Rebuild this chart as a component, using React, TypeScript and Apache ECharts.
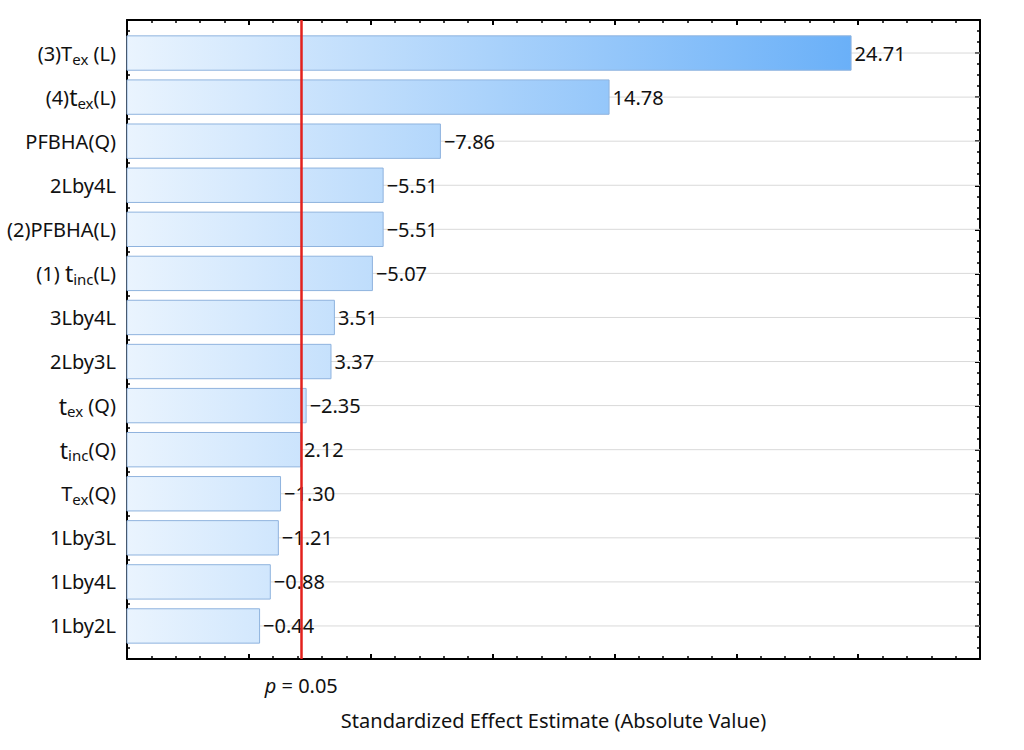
import React, { useEffect, useRef } from "react";
import * as echarts from "echarts";

// ---- data ----
const categoryLabels = [
  "(3)T{sub|ex} (L)",
  "(4){t|t}{sub|ex}(L)",
  "PFBHA(Q)",
  "2Lby4L",
  "(2)PFBHA(L)",
  "(1) {t|t}{sub|inc}(L)",
  "3Lby4L",
  "2Lby3L",
  "{t|t}{sub|ex} (Q)",
  "{t|t}{sub|inc}(Q)",
  "T{sub|ex}(Q)",
  "1Lby3L",
  "1Lby4L",
  "1Lby2L",
];
const effects = [24.71, 14.78, -7.86, -5.51, -5.51, -5.07, 3.51, 3.37, -2.35, 2.12, -1.3, -1.21, -0.88, -0.44];
const xMin = -5;
const xMax = 30;
const xStep = 5;
const pCritical = 2.145;
const pLabel = "{i|p} = 0.05";
const xTitle = "Standardized Effect Estimate (Absolute Value)";

const FONT = "Noto Sans";

function fmt(v: number): string {
  const s = Math.abs(v).toFixed(2);
  return v < 0 ? "\u2212" + s : s;
}

export default function App() {
  const ref = useRef<HTMLDivElement>(null);
  useEffect(() => {
    document.body.style.margin = "0";
    const chart = echarts.init(ref.current!, undefined, { renderer: "svg" });
    const maxAbs = Math.max(...effects.map((e) => Math.abs(e)));
    const data = effects.map((e, i) => [Math.abs(e), i, e]);

    const frameX = (pos: "top" | "bottom", extra: any = {}) => ({
      gridIndex: 1,
      type: "value",
      position: pos,
      min: xMin,
      max: xMax,
      interval: xStep,
      axisLine: { show: true, onZero: false, lineStyle: { color: "#000", width: 2 } },
      axisTick: { show: true, inside: true, length: 5, lineStyle: { color: "#000", width: 2 } },
      minorTick: { show: true, splitNumber: 5, length: 3, lineStyle: { color: "#000", width: 1.5 } },
      axisLabel: { show: false },
      splitLine: { show: false },
      minorSplitLine: { show: false },
      ...extra,
    });
    const frameY = (pos: "left" | "right") => ({
      gridIndex: 1,
      type: "value",
      position: pos,
      min: 0,
      max: 58,
      interval: 1,
      axisLine: { show: true, onZero: false, lineStyle: { color: "#000", width: 2 } },
      axisTick: { show: true, inside: true, length: 3, lineStyle: { color: "#000", width: 1.5 } },
      axisLabel: { show: false },
      splitLine: { show: false },
    });
    const catY = (pos: "left" | "right", labels: boolean) => ({
      gridIndex: 0,
      type: "category",
      position: pos,
      data: categoryLabels,
      inverse: true,
      axisLine: { show: false, onZero: false },
      axisTick: { show: true, inside: true, alignWithLabel: true, length: 5, lineStyle: { color: "#000", width: 2 } },
      splitLine: { show: false },
      axisLabel: labels
        ? {
            show: true,
            margin: 11,
            color: "#111",
            fontFamily: FONT,
            fontSize: 20,
            lineHeight: 26,
            formatter: (v: string) => v,
            rich: {
              t: { fontSize: 23, fontFamily: FONT, color: "#111", lineHeight: 26 },
              sub: { fontSize: 15, fontFamily: FONT, color: "#111", lineHeight: 17, verticalAlign: "bottom" },
            },
          }
        : { show: false },
    });

    const option: any = {
      animation: false,
      backgroundColor: "#fff",
      grid: [
        { left: 127, right: 44, top: 31, bottom: 102 },
        { left: 127, right: 44, top: 20, bottom: 91 },
      ],
      xAxis: [
        { gridIndex: 0, type: "value", min: xMin, max: xMax, interval: xStep, show: false },
        frameX("bottom", {
          name: xTitle,
          nameLocation: "middle",
          nameGap: 51,
          nameTextStyle: { fontFamily: FONT, fontSize: 20, color: "#111" },
        }),
        frameX("top"),
      ],
      yAxis: [catY("left", true), catY("right", false), frameY("left"), frameY("right")],
      series: [
        {
          type: "custom",
          xAxisIndex: 0,
          yAxisIndex: 0,
          z: 2,
          data,
          encode: { x: 0, y: 1 },
          renderItem: (params: any, api: any) => {
            const v = api.value(0);
            const idx = api.value(1);
            const signed = api.value(2);
            const start = api.coord([xMin, idx]);
            const end = api.coord([v, idx]);
            const rightEdge = api.coord([xMax, idx]);
            const gradEnd = api.coord([maxAbs, idx]);
            const band = api.size([0, 1])[1];
            const h = band * 0.78;
            return {
              type: "group",
              children: [
                {
                  type: "line",
                  shape: { x1: start[0], y1: start[1], x2: rightEdge[0], y2: start[1] },
                  style: { stroke: "#d9d9d9", lineWidth: 1 },
                  z2: 0,
                },
                {
                  type: "rect",
                  shape: { x: start[0], y: start[1] - h / 2, width: end[0] - start[0], height: h },
                  style: {
                    fill: new echarts.graphic.LinearGradient(
                      start[0], 0, gradEnd[0], 0,
                      [
                        { offset: 0, color: "#eaf4fe" },
                        { offset: 1, color: "#6ab0f8" },
                      ],
                      true
                    ),
                    stroke: "#8fb3de",
                    lineWidth: 1,
                  },
                  z2: 1,
                  textContent: {
                    type: "text",
                    style: {
                      text: fmt(signed),
                      fill: "#111",
                      fontFamily: FONT,
                      fontSize: 20,
                    },
                  },
                  textConfig: { position: "right", distance: 3 },
                },
              ],
            };
          },
        },
        {
          type: "line",
          xAxisIndex: 1,
          yAxisIndex: 2,
          data: [],
          z: 10,
          markLine: {
            silent: true,
            z: 10,
            symbol: "none",
            lineStyle: { color: "#e3211c", width: 2.5, type: "solid" },
            label: {
              show: true,
              position: "start",
              distance: 16,
              formatter: pLabel,
              color: "#111",
              fontFamily: FONT,
              fontSize: 20,
              rich: { i: { fontStyle: "italic", fontFamily: FONT, fontSize: 20, color: "#111" } },
            },
            data: [{ xAxis: pCritical }],
          },
        },
      ],
    };
    chart.setOption(option);
    return () => chart.dispose();
  }, []);
  return <div ref={ref} style={{ width: 1024, height: 750 }} />;
}
